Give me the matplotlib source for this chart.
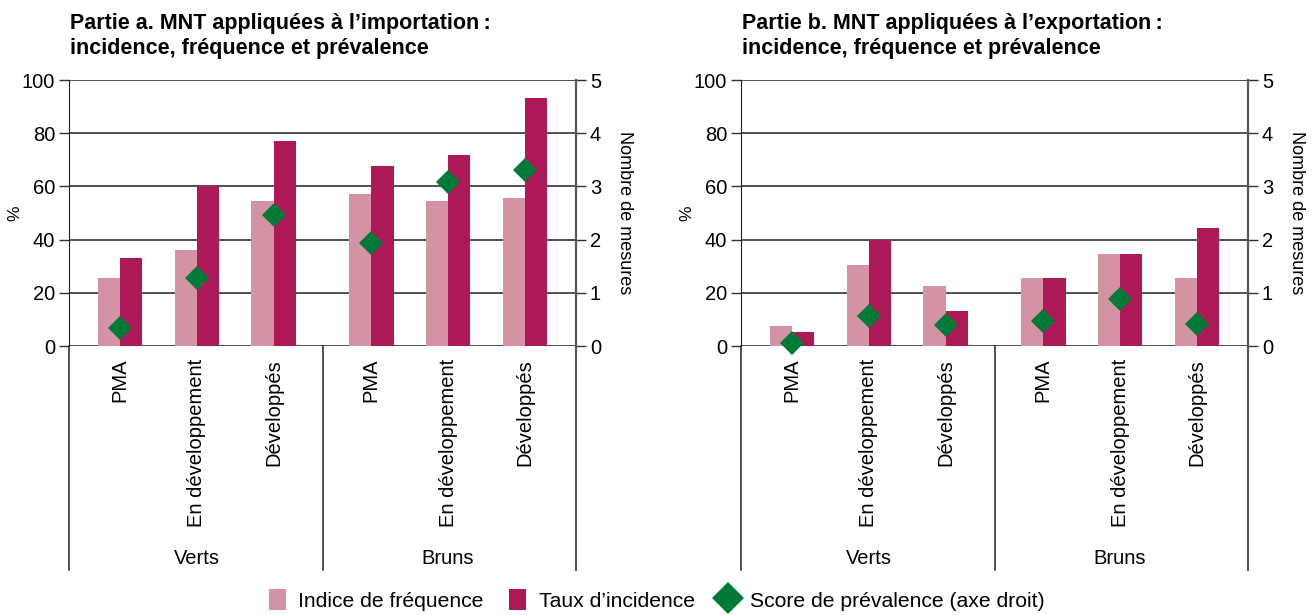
import matplotlib
matplotlib.use("Agg")
import matplotlib.pyplot as plt
from matplotlib.lines import Line2D
from matplotlib.patches import Patch
import numpy as np

plt.rcParams['font.family'] = ['Liberation Sans', 'DejaVu Sans']

categories = ["PMA", "En développement", "Développés", "PMA", "En développement", "Développés"]
groups = ["Verts", "Bruns"]
titles = ["Partie a. MNT appliquées à l’importation\u202f:\nincidence, fréquence et prévalence",
          "Partie b. MNT appliquées à l’exportation\u202f:\nincidence, fréquence et prévalence"]

# Panel a (import)
freq_a = [25.4, 36.2, 54.6, 57.2, 54.6, 55.7]
inc_a = [33.1, 60.2, 77.1, 67.7, 71.7, 93.1]
prev_a = [0.34, 1.27, 2.47, 1.93, 3.09, 3.31]
# Panel b (export)
freq_b = [7.7, 30.6, 22.7, 25.4, 34.7, 25.4]
inc_b = [5.1, 40.0, 13.0, 25.4, 34.7, 44.5]
prev_b = [0.05, 0.56, 0.39, 0.47, 0.89, 0.42]

legend_labels = ["Indice de fréquence", "Taux d’incidence", "Score de prévalence (axe droit)"]
left_label = "%"
right_label = "Nombre de mesures"

c_light = "#D493A2"
c_dark = "#AD1957"
c_green = "#007A37"

W, H = 1313, 615
fig = plt.figure(figsize=(W / 100, H / 100), dpi=100)

fs = 14.5
xpos = np.array([0, 1, 2, 3.27, 4.27, 5.27])
bw = 0.29
divider = (xpos[2] + xpos[3]) / 2
xl = (-0.667, 5.937)
AXW = 507


def panel(left_px, freq, inc, prev, title):
    ax_h = 266
    ax = fig.add_axes([left_px / W, (H - 346) / H, AXW / W, ax_h / H])
    ax.bar(xpos - bw / 2, freq, bw, color=c_light, zorder=3)
    ax.bar(xpos + bw / 2, inc, bw, color=c_dark, zorder=3)
    ax.set_ylim(0, 100)
    ax.set_xlim(*xl)
    ax.set_yticks(np.arange(0, 101, 20))
    ax.tick_params(axis='y', labelsize=fs, length=7, width=1, color='#333333', pad=3)
    ax.set_xticks([])
    ax.grid(axis='y', color='#222222', lw=1.1, zorder=1)
    for s in ['top', 'bottom']:
        ax.spines[s].set_visible(False)
    ax.spines['left'].set_color('#222222')
    ax.spines['right'].set_color('#555555')
    ax.spines['right'].set_linewidth(1.5)
    ax.set_ylabel(left_label, fontsize=fs - 2)
    ax.yaxis.set_label_coords(-47 / AXW, 0.5)
    ax2 = ax.twinx()
    ax2.set_ylim(0, 5)
    ax2.set_yticks(np.arange(0, 6, 1))
    ax2.tick_params(axis='y', labelsize=fs, length=7, width=1, color='#333333', pad=3)
    for s in ['top', 'bottom', 'left']:
        ax2.spines[s].set_visible(False)
    ax2.spines['right'].set_color('#555555')
    ax2.spines['right'].set_linewidth(1.5)
    ax2.plot(xpos, prev, linestyle='none', marker='D', ms=12, color=c_green,
             markeredgewidth=0, zorder=5, clip_on=False)
    ax2.set_ylabel(right_label, fontsize=fs - 1.5, rotation=270, va='center')
    ax2.yaxis.set_label_coords(1 + 49 / AXW, 0.5)
    ax2.set_zorder(ax.get_zorder() + 1)
    ax2.patch.set_visible(False)

    tr = ax.get_xaxis_transform()
    px = 1 / ax_h
    for x, lab in zip(xpos, categories):
        ax.text(x, -13 * px, lab, rotation=90, ha='center', va='top',
                fontsize=fs, transform=tr)
    ybot = -224 * px
    for x in [xl[0], divider, xl[1]]:
        col = '#555555' if x == xl[1] else '#222222'
        lw = 1.5 if x == xl[1] else 1.1
        ax.add_line(Line2D([x, x], [0, ybot], transform=tr, color=col, lw=lw, clip_on=False))
    centers = [xpos[:3].mean(), xpos[3:].mean()]
    for cx, g in zip(centers, groups):
        ax.text(cx, -212 * px, g, ha='center', va='center', fontsize=fs, transform=tr)
    fig.text(left_px / W + 0.0008, 1 - 36 / H, title, fontsize=15.5, fontweight='bold',
             ha='left', va='center', linespacing=1.3)
    return ax


panel(69, freq_a, inc_a, prev_a, titles[0])
panel(741, freq_b, inc_b, prev_b, titles[1])

handles = [Patch(facecolor=c_light, edgecolor='none'),
           Patch(facecolor=c_dark, edgecolor='none'),
           Line2D([], [], linestyle='none', marker='D', ms=16, color=c_green, markeredgewidth=0)]
fig.legend(handles, legend_labels, loc='center', bbox_to_anchor=(0.5, 1 - 600 / H), ncol=3,
           frameon=False, fontsize=15.2, handlelength=0.8, handleheight=1.1, handletextpad=0.6,
           columnspacing=1.2)

fig.savefig("out.png", dpi=100)
